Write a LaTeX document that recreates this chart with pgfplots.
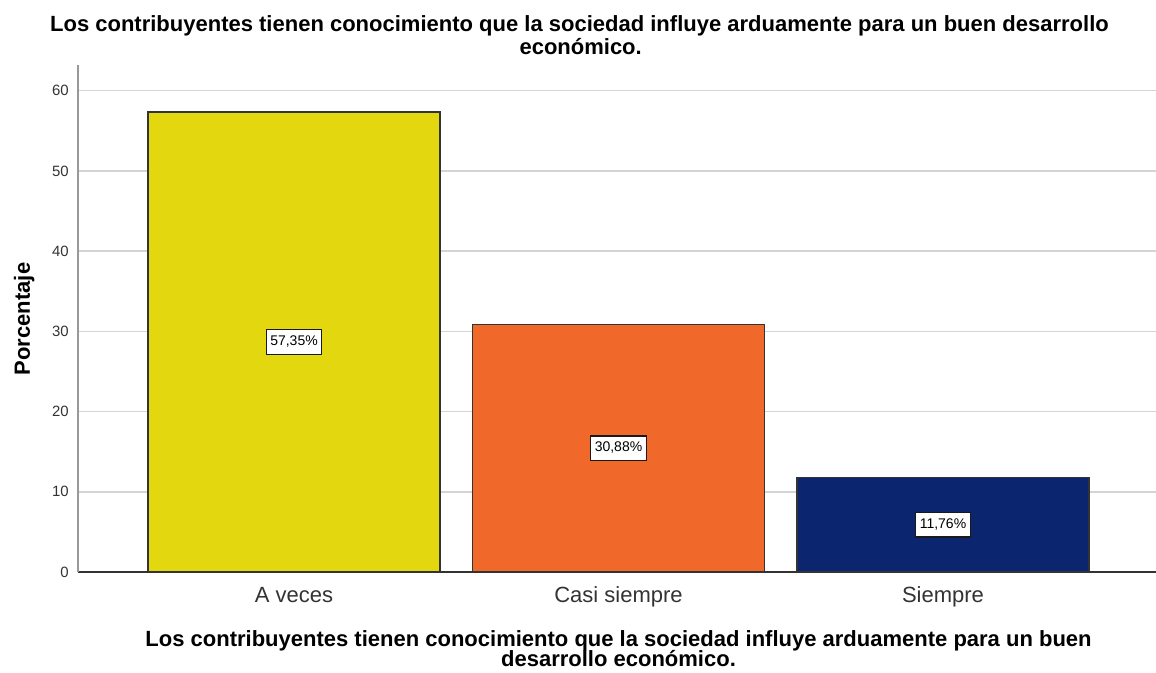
\documentclass[border=0pt]{standalone}
\usepackage{pgfplots}
\pgfplotsset{compat=1.18}
\usepackage{fontspec}
\setmainfont{Liberation Sans}
\definecolor{barY}{RGB}{227,215,15}
\definecolor{barO}{RGB}{241,104,43}
\definecolor{barN}{RGB}{11,38,110}
\definecolor{txt}{RGB}{51,51,51}
\newcommand{\bigfont}{\fontsize{16.5pt}{19pt}\selectfont}
\begin{document}
\begin{tikzpicture}
\path[use as bounding box] (-58.5pt,-75pt) rectangle (808.5pt,429pt);
\begin{axis}[
  at={(0pt,0pt)}, anchor=south west,
  scale only axis, width=810.75pt, height=380.25pt,
  xmin=-0.6657, xmax=2.6657, ymin=0, ymax=63.2,
  axis lines=left, axis line style={-},
  x axis line style={draw=black!80, line width=1pt},
  y axis line style={draw=black!40, line width=1.5pt},
  ytick={0,10,20,30,40,50,60},
  xtick={0,1,2},
  xticklabels={A veces, Casi siempre, Siempre},
  major tick length=0pt,
  ymajorgrids,
  grid style={draw=black!17, line width=1.2pt},
  /pgf/number format/assume math mode=true,
  yticklabel style={font=\fontsize{11.2pt}{13pt}\selectfont, text=txt, anchor=east, inner sep=0pt, xshift=-6.75pt},
  xticklabel style={font=\bigfont, text=txt, anchor=base, inner sep=0pt, yshift=-22.5pt},
  clip=false,
]
\addplot[ybar, bar shift=0pt, bar width=0.9, fill=barY, draw=black!80, line width=1pt] coordinates {(0,57.35)};
\addplot[ybar, bar shift=0pt, bar width=0.9, fill=barO, draw=black!80, line width=1pt] coordinates {(1,30.88)};
\addplot[ybar, bar shift=0pt, bar width=0.9, fill=barN, draw=black!80, line width=1pt] coordinates {(2,11.76)};
\addplot[draw=none, mark=none, nodes near coords, point meta=explicit symbolic,
  nodes near coords align=center,
  every node near coord/.append style={anchor=center, fill=white, draw=black!90, line width=1pt,
    font=\fontsize{10.5pt}{12pt}\selectfont, text=black, inner xsep=3pt, inner ysep=4.3pt,
    text height=7.6pt, text depth=2.2pt}]
  table[meta=lab, row sep=\\] {
  x y lab\\
  0 28.68 57,35\%\\
  1 15.44 30,88\%\\
  2 5.88 11,76\%\\
  };
\end{axis}
\node[font=\bigfont\bfseries, anchor=base, inner sep=0pt] at (376.1pt,405.4pt) {Los contribuyentes tienen conocimiento que la sociedad influye arduamente para un buen desarrollo};
\node[font=\bigfont\bfseries, anchor=base, inner sep=0pt] at (377pt,388.1pt) {económico.};
\node[font=\bigfont\bfseries, anchor=base, inner sep=0pt] at (405.4pt,-55.5pt) {Los contribuyentes tienen conocimiento que la sociedad influye arduamente para un buen};
\node[font=\bigfont\bfseries, anchor=base, inner sep=0pt] at (405.4pt,-71.1pt) {desarrollo económico.};
\node[font=\bigfont\bfseries, anchor=base, rotate=90] at (-36pt,189.75pt) {Porcentaje};
\end{tikzpicture}
\end{document}
